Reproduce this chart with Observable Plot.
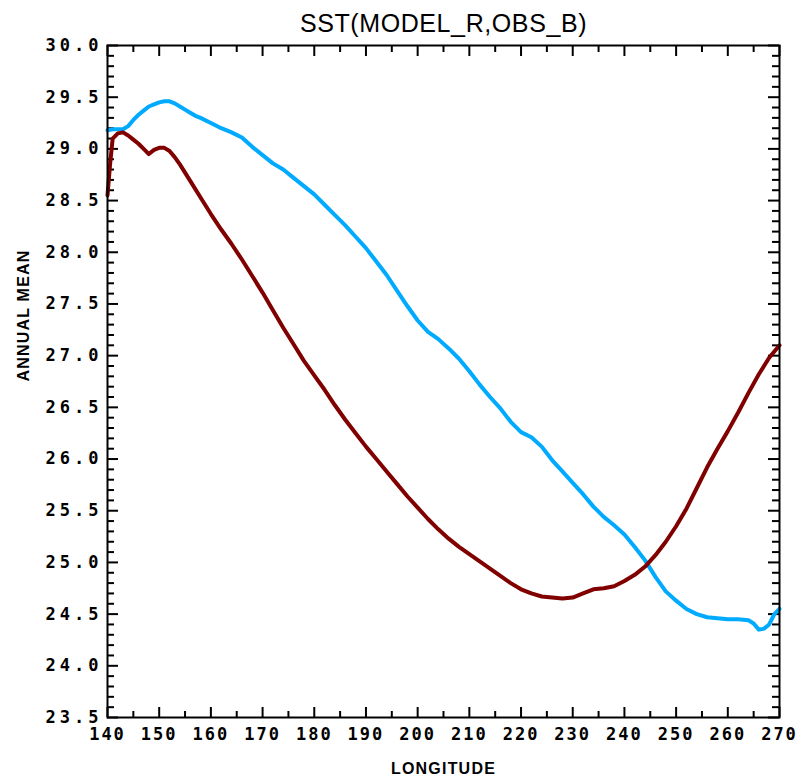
<!DOCTYPE html>
<html>
<head>
<meta charset="utf-8">
<script src="https://cdn.jsdelivr.net/npm/d3@7"></script>
<script src="https://cdn.jsdelivr.net/npm/@observablehq/plot@0.6"></script>
<style>
  html, body { margin: 0; padding: 0; background: #ffffff; }
  #chart { width: 799px; height: 778px; }
</style>
</head>
<body>
<div id="chart"></div>
<script>
const titleText = "SST(MODEL_R,OBS_B)";
const xLabel = "LONGITUDE";
const yLabel = "ANNUAL MEAN";

const xTicks = [140, 150, 160, 170, 180, 190, 200, 210, 220, 230, 240, 250, 260, 270];
const yTicks = [23.5, 24.0, 24.5, 25.0, 25.5, 26.0, 26.5, 27.0, 27.5, 28.0, 28.5, 29.0, 29.5, 30.0];

// OBS_B (light blue)
const obsLon = [140, 141, 142, 143, 144, 145, 146, 147, 148, 149, 150, 151, 152, 153, 154, 155, 156, 157, 158,
  160, 162, 164, 166, 168, 170, 172, 174, 176, 178, 180, 182, 184, 186, 188, 190, 192, 194, 196, 198,
  200, 202, 204, 206, 208, 210, 212, 214, 216, 218, 220, 222, 224, 226, 228, 230, 232, 234, 236, 238,
  240, 242, 244, 246, 248, 250, 252, 254, 256, 258, 260, 262, 264, 265, 266, 267, 268, 269, 270];
const obsSst = [29.18, 29.19, 29.19, 29.19, 29.22, 29.28, 29.33, 29.37, 29.41, 29.43, 29.45, 29.46, 29.46, 29.44, 29.41, 29.38, 29.35, 29.32, 29.30,
  29.25, 29.20, 29.16, 29.11, 29.02, 28.94, 28.86, 28.80, 28.72, 28.64, 28.56, 28.46, 28.36, 28.26, 28.15, 28.04, 27.91, 27.78, 27.63, 27.48,
  27.34, 27.23, 27.16, 27.07, 26.97, 26.85, 26.72, 26.60, 26.49, 26.36, 26.26, 26.21, 26.12, 25.99, 25.88, 25.77, 25.66, 25.54, 25.44, 25.36,
  25.27, 25.15, 25.02, 24.86, 24.72, 24.63, 24.55, 24.50, 24.47, 24.46, 24.45, 24.45, 24.44, 24.41, 24.35, 24.36, 24.40, 24.50, 24.55];

// MODEL_R (dark red)
const modLon = [140, 140.5, 141, 142, 143, 144, 145, 146, 147, 148, 149, 150, 151, 152, 153, 154, 156, 158,
  160, 162, 164, 166, 168, 170, 172, 174, 176, 178, 180, 182, 184, 186, 188, 190, 192, 194, 196, 198,
  200, 202, 204, 206, 208, 210, 212, 214, 216, 218, 220, 222, 224, 226, 228, 230, 232, 234, 236, 238,
  240, 242, 244, 246, 248, 250, 252, 254, 256, 258, 260, 262, 264, 266, 268, 270];
const modSst = [28.55, 28.85, 29.10, 29.15, 29.16, 29.13, 29.09, 29.05, 29.00, 28.95, 28.99, 29.01, 29.01, 28.98, 28.92, 28.85, 28.69, 28.53,
  28.37, 28.22, 28.08, 27.93, 27.77, 27.61, 27.44, 27.27, 27.11, 26.95, 26.81, 26.67, 26.52, 26.38, 26.25, 26.12, 26.00, 25.88, 25.76, 25.64,
  25.53, 25.42, 25.32, 25.23, 25.15, 25.08, 25.01, 24.94, 24.87, 24.80, 24.74, 24.70, 24.67, 24.66, 24.65, 24.66, 24.70, 24.74, 24.75, 24.77,
  24.82, 24.88, 24.96, 25.07, 25.20, 25.35, 25.52, 25.72, 25.92, 26.10, 26.27, 26.45, 26.64, 26.82, 26.98, 27.10];

const obsData = obsLon.map((x, i) => ({lon: x, sst: obsSst[i]}));
const modData = modLon.map((x, i) => ({lon: x, sst: modSst[i]}));

const xMinor = d3.range(145, 270, 10);
const yMinor = d3.range(236, 300, 1).filter(v => v % 5 !== 0).map(v => v / 10);

const W = 799, H = 778, mL = 107, mR = 20, mT = 45, mB = 61;
const fw = W - mL - mR, fh = H - mT - mB;

const tickFont = "'DejaVu Sans Mono', monospace";
const labelFont = "'Liberation Sans', Arial, sans-serif";

const chart = Plot.plot({
  width: W, height: H,
  marginLeft: mL, marginRight: mR, marginTop: mT, marginBottom: mB,
  style: {background: "#ffffff", color: "#000"},
  x: {domain: [140, 270], label: null},
  y: {domain: [23.5, 30], label: null},
  marks: [
    // inward ticks
    Plot.tickX(xTicks, {x: d => d, stroke: "#000", strokeWidth: 2, insetTop: fh - 10}),
    Plot.tickX(xMinor, {x: d => d, stroke: "#000", strokeWidth: 2, insetTop: fh - 6}),
    Plot.tickX(xTicks, {x: d => d, stroke: "#000", strokeWidth: 2, insetBottom: fh - 11}),
    Plot.tickX(xMinor, {x: d => d, stroke: "#000", strokeWidth: 2, insetBottom: fh - 7}),
    Plot.tickY(yTicks, {y: d => d, stroke: "#000", strokeWidth: 2, insetRight: fw - 11}),
    Plot.tickY(yMinor, {y: d => d, stroke: "#000", strokeWidth: 2, insetRight: fw - 7}),
    Plot.tickY(yTicks, {y: d => d, stroke: "#000", strokeWidth: 2, insetLeft: fw - 11}),
    Plot.tickY(yMinor, {y: d => d, stroke: "#000", strokeWidth: 2, insetLeft: fw - 7}),
    // tick labels
    Plot.axisX(xTicks, {anchor: "bottom", tickSize: 0, tickPadding: 10, tickFormat: d => String(d),
      fontFamily: tickFont, fontWeight: "bold", fontSize: 17, label: null}),
    Plot.axisY(yTicks, {anchor: "left", tickSize: 0, tickPadding: 5, tickFormat: d => d.toFixed(1),
      fontFamily: tickFont, fontWeight: "bold", fontSize: 17, label: null}),
    // data lines
    Plot.line(obsData, {x: "lon", y: "sst", stroke: "#00aaff", strokeWidth: 4, strokeLinejoin: "round"}),
    Plot.line(modData, {x: "lon", y: "sst", stroke: "#800000", strokeWidth: 4, strokeLinejoin: "round"}),
    Plot.frame({stroke: "#000", strokeWidth: 2}),
    // title & axis labels
    Plot.text([titleText], {text: d => d, frameAnchor: "top", lineAnchor: "bottom", dy: -14,
      fontFamily: labelFont, fontSize: 25, fill: "#000"}),
    Plot.text([xLabel], {text: d => d, frameAnchor: "bottom", lineAnchor: "bottom", dy: 56,
      fontFamily: labelFont, fontWeight: "bold", fontSize: 16, fill: "#000"}),
    Plot.text([yLabel], {text: d => d, frameAnchor: "left", lineAnchor: "bottom", rotate: -90, dx: -79,
      fontFamily: labelFont, fontWeight: "bold", fontSize: 16, fill: "#000"})
  ]
});
document.getElementById("chart").appendChild(chart);

// letter spacing (styling only)
const svg = d3.select(chart);
svg.selectAll('g[aria-label="y-axis tick label"] text').style("letter-spacing", "4px");
svg.selectAll('g[aria-label="x-axis tick label"] text').style("letter-spacing", "2px");
svg.selectAll("text").filter(function() { return this.textContent === titleText; }).style("letter-spacing", "0.6px");
svg.selectAll("text").filter(function() { return this.textContent === xLabel || this.textContent === yLabel; }).style("letter-spacing", "1.2px");
</script>
</body>
</html>
